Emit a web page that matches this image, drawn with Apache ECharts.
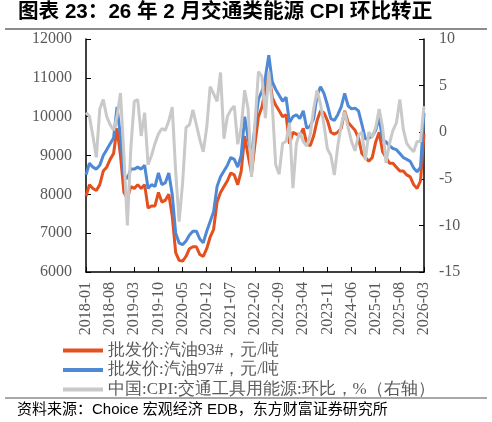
<!DOCTYPE html>
<html><head><meta charset="utf-8">
<script src="https://cdn.jsdelivr.net/npm/echarts@6/dist/echarts.min.js"></script>
<style>html,body{margin:0;padding:0;background:#fff}#c{width:492px;height:422px}</style>
</head><body><div id="c"></div>
<script>
// Month categories 2018-01 .. 2026-03
const months = [];
for (let y = 2018, m = 1; !(y === 2026 && m === 4);) {
  months.push(y + '-' + String(m).padStart(2, '0'));
  m++; if (m > 12) { m = 1; y++; }
}
const titleText = '图表 23：26 年 2 月交通类能源 CPI 环比转正';
const sourceText = '资料来源：Choice 宏观经济 EDB，东方财富证券研究所';
const seriesNames = ['批发价:汽油93#，元/吨', '批发价:汽油97#，元/吨', '中国:CPI:交通工具用能源:环比，%（右轴）'];

const gas93 = [7950,8250,8150,8100,8250,8600,8700,8900,9050,9700,
  9000,8050,7900,8200,8150,8250,8150,8250,7650,7700,
  7700,8050,7800,7850,8000,7450,6500,6300,6280,6400,
  6600,6650,6650,6450,6400,6600,6900,7100,7800,8050,
  8200,8350,8550,8500,8250,8600,9500,9000,8550,9300,
  10000,10250,10700,11150,10500,10300,10150,10000,10050,9300,
  9600,9550,9500,9700,9300,9250,9500,9900,10150,10100,
  9900,9600,9550,9600,9700,10150,9850,9750,9650,9450,
  9050,8950,8850,8950,9350,9600,9100,8950,8800,8800,
  8700,8600,8600,8500,8450,8250,8150,8350,9550];

const gas97 = [8500,8800,8700,8650,8750,9000,9150,9300,9450,10250,
  9500,8500,8400,8650,8650,8700,8650,8750,8150,8250,
  8200,8550,8250,8300,8550,8000,7000,6750,6700,6800,
  6950,7050,7050,6850,6750,7050,7300,7550,8200,8450,
  8600,8750,8950,8900,8700,9000,10000,9450,9000,9750,
  10450,10650,11000,11580,10900,10700,10550,10400,10500,9850,
  10000,10050,9950,10150,9700,9750,9950,10550,10770,10600,
  10300,9950,9900,10050,10250,10600,10280,10200,10220,10150,
  9800,9420,9450,9500,9650,9980,9400,9350,9250,9180,
  9150,9050,8950,8900,8850,8680,8580,8700,10100];

const cpiEnergyMoM = [2.1,1.7,-0.4,-2.7,2.5,3.5,1.7,0.8,0.2,1.7,
  4.2,-2.5,-10,-1.7,3.3,3.5,-0.4,2.1,-3.5,-2.5,
  -1.2,-0.2,0.4,0.2,1.2,2.7,-4.2,-9.6,-5.5,0.5,
  0.8,2.4,0.8,-0.8,-2.1,0.5,4.9,4.1,3.3,6.4,
  -0.7,1.7,2.4,2.8,-1.3,0.5,4.5,2.5,-4.8,1.0,
  6.5,6.0,1.5,6.5,3.0,-3.5,-4.5,-1.2,-1.0,1.0,
  -6.0,-1.2,0.0,-1.0,-1.5,-0.3,2.5,4.5,3.0,0.8,
  -1.8,-2.5,-4.6,-1.5,0.8,2.2,0.5,-1.0,-2.0,-0.3,
  0.0,-3.0,0.0,-0.5,0.5,2.5,0.5,-3.3,-1.2,0.2,
  1.0,3.5,0.3,-1.2,-1.7,-2.1,-1.0,-1.0,2.8];

const leftMin = 6000, leftMax = 12000, leftStep = 1000;
const rightMin = -15, rightMax = 10, rightStep = 5;

const serif = 'Liberation Serif';
const axisLabelStyle = { color: '#595959', fontSize: 16, fontFamily: serif };
const blackLine = { show: true, onZero: false, lineStyle: { color: '#000', width: 1.5 } };

const chart = echarts.init(document.getElementById('c'), null, { renderer: 'canvas' });
chart.setOption({
  animation: false,
  backgroundColor: '#fff',
  grid: { left: 86, right: 68, top: 39, bottom: 150, containLabel: false },
  graphic: [
    { type: 'text', left: 18, top: 2, style: { text: titleText, fill: '#000',
      font: "bold 20.6px 'Liberation Sans','Noto Sans CJK SC',sans-serif" } },
    { type: 'line', shape: { x1: 5, y1: 29, x2: 487, y2: 29 }, style: { stroke: '#8c8c8c', lineWidth: 2 } },
    { type: 'line', shape: { x1: 5, y1: 398, x2: 487, y2: 398 }, style: { stroke: '#8c8c8c', lineWidth: 1.5 } },
    { type: 'text', left: 17, top: 402, style: { text: sourceText, fill: '#000',
      font: "15px 'Liberation Sans','Noto Sans CJK SC',sans-serif" } }
  ],
  legend: {
    orient: 'vertical', left: 58, top: 337, itemWidth: 40, itemHeight: 4, itemGap: 2.5,
    icon: 'rect',
    textStyle: { color: '#595959', fontSize: 17, fontFamily: serif, lineHeight: 17 },
    data: seriesNames
  },
  xAxis: {
    type: 'category', data: months, boundaryGap: false,
    axisLine: blackLine,
    axisTick: { inside: true, length: 5, interval: 6, lineStyle: { color: '#000' } },
    axisLabel: Object.assign({ interval: 6, rotate: 90, margin: 10 }, axisLabelStyle),
    splitLine: { show: false }
  },
  yAxis: [
    { type: 'value', min: leftMin, max: leftMax, interval: leftStep, position: 'left',
      axisLine: blackLine,
      axisTick: { show: true, inside: true, length: 5, lineStyle: { color: '#000' } },
      axisLabel: Object.assign({ margin: 14, formatter: v => String(v) }, axisLabelStyle),
      splitLine: { show: false } },
    { type: 'value', min: rightMin, max: rightMax, interval: rightStep, position: 'right',
      axisLine: blackLine,
      axisTick: { show: true, inside: true, length: 5, lineStyle: { color: '#000' } },
      axisLabel: Object.assign({ margin: 15, formatter: v => String(v) }, axisLabelStyle),
      splitLine: { show: false } }
  ],
  series: [
    { name: seriesNames[0], type: 'line', data: gas93, yAxisIndex: 0, showSymbol: false,
      itemStyle: { color: '#E4501E' }, lineStyle: { color: '#E4501E', width: 3 } },
    { name: seriesNames[1], type: 'line', data: gas97, yAxisIndex: 0, showSymbol: false,
      itemStyle: { color: '#4F89D6' }, lineStyle: { color: '#4F89D6', width: 3 } },
    { name: seriesNames[2], type: 'line', data: cpiEnergyMoM, yAxisIndex: 1, showSymbol: false,
      itemStyle: { color: '#C9C9C9' }, lineStyle: { color: '#C9C9C9', width: 3 } }
  ]
});
</script>
</body></html>
